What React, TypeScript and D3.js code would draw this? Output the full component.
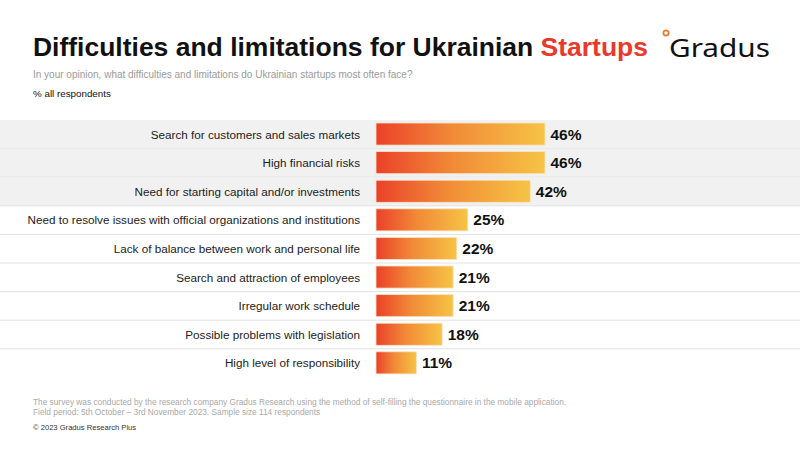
import React from "react";
import * as d3 from "d3";

const categories = [
  "Search for customers and sales markets",
  "High financial risks",
  "Need for starting capital and/or investments",
  "Need to resolve issues with official organizations and institutions",
  "Lack of balance between work and personal life",
  "Search and attraction of employees",
  "Irregular work schedule",
  "Possible problems with legislation",
  "High level of responsibility",
];
const values = [46, 46, 42, 25, 22, 21, 21, 18, 11];
const highlighted = [true, true, true, false, false, false, false, false, false];

const W = 800;
const H = 450;
const font = "Arial, 'Liberation Sans', Helvetica, sans-serif";

export default function App() {
  const top = 120;
  const rowH = 28.6;
  const x = d3.scaleLinear().domain([0, 46]).range([376, 545]);
  const y = d3
    .scaleBand<number>()
    .domain(d3.range(categories.length))
    .range([top, top + rowH * categories.length])
    .paddingInner(0)
    .paddingOuter(0);
  const barPad = 3;
  const barH = y.bandwidth() - 6.5;

  return (
    <svg
      width={W}
      height={H}
      viewBox={`0 0 ${W} ${H}`}
      style={{ position: "fixed", left: 0, top: 0, background: "#fff" }}
      fontFamily={font}
    >
      <defs>
        <linearGradient id="barGrad" x1="0" x2="1" y1="0" y2="0">
          <stop offset="0%" stopColor="#ea4129" />
          <stop offset="45%" stopColor="#f18a37" />
          <stop offset="100%" stopColor="#f6c445" />
        </linearGradient>
      </defs>
      <rect width={W} height={H} fill="#fff" />

      {/* Title */}
      <text
        x={33}
        y={56}
        fontSize={26.5}
        fontWeight="bold"
        fill="#111"
        textLength={615}
        lengthAdjust="spacingAndGlyphs"
      >
        Difficulties and limitations for Ukrainian{" "}
        <tspan fill="#e8392b">Startups</tspan>
      </text>

      {/* Logo */}
      <circle cx={666} cy={33} r={2.6} fill="none" stroke="#f07a2a" strokeWidth={1.8} />
      <text
        x={669}
        y={57}
        fontSize={25}
        fontFamily="'Noto Sans', 'Open Sans', sans-serif"
        fontWeight={400}
        fill="#111"
        textLength={101}
        lengthAdjust="spacingAndGlyphs"
      >
        Gradus
      </text>

      <text x={33} y={78} fontSize={10} fill="#9a9a9a">
        In your opinion, what difficulties and limitations do Ukrainian startups most often face?
      </text>
      <text x={33} y={97} fontSize={9.8} fill="#111">
        % all respondents
      </text>

      {/* Row backgrounds */}
      {categories.map((c, i) => (
        <g key={"bg" + i}>
          {highlighted[i] && (
            <rect x={0} y={y(i)!} width={W} height={y.bandwidth()} fill="#f1f1f1" />
          )}
          {i < categories.length - 1 && (
            <line
              x1={0}
              x2={W}
              y1={y(i)! + y.bandwidth()}
              y2={y(i)! + y.bandwidth()}
              stroke="#e2e2e2"
              strokeWidth={1}
            />
          )}
        </g>
      ))}

      {/* Bars */}
      {categories.map((c, i) => {
        const yy = y(i)!;
        return (
          <g key={"bar" + i}>
            <text
              x={360}
              y={yy + y.bandwidth() / 2 + 4.3}
              textAnchor="end"
              fontSize={11.7}
              fill="#222"
            >
              {c}
            </text>
            <rect
              x={x(0)}
              y={yy + barPad}
              width={x(values[i]) - x(0)}
              height={barH}
              fill="url(#barGrad)"
              stroke="#fbe3c8"
              strokeWidth={0.8}
            />
            <text
              x={x(values[i]) + 5.5}
              y={yy + barPad + barH / 2 + 5.5}
              fontSize={15.5}
              fontWeight="bold"
              fill="#111"
            >
              {values[i]}%
            </text>
          </g>
        );
      })}

      {/* Footer */}
      <text x={33} y={405} fontSize={8.3} fill="#a8a8a8">
        The survey was conducted by the research company Gradus Research using the method of self-filling the questionnaire in the mobile application.
      </text>
      <text x={33} y={415} fontSize={8.3} fill="#a8a8a8">
        Field period: 5th October – 3rd November 2023. Sample size 114 respondents
      </text>
      <text x={33} y={430} fontSize={7.6} fill="#333">
        © 2023 Gradus Research Plus
      </text>
    </svg>
  );
}
